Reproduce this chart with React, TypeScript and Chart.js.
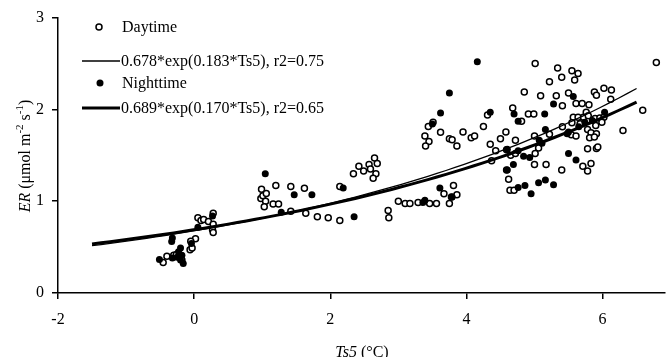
import React, { useEffect, useRef } from "react";
import { Chart, registerables } from "chart.js";

Chart.register(...registerables);

const dayX = [
  -0.455, -0.4, -0.3, -0.26, -0.18, -0.06, -0.03, 0.02, -0.05, 0.055, 0.1, 0.14, 0.21, 0.28, 0.28, 0.27, 0.28,
  0.99, 0.98, 1.01, 1.06, 1.05, 1.03, 1.2, 1.16, 1.24, 1.42, 1.42, 1.62, 1.64, 1.81, 1.97, 2.14, 2.14,
  2.34, 2.42, 2.49, 2.57, 2.59, 2.65, 2.69, 2.67, 2.63, 2.85, 2.86, 3.0, 3.1, 3.17, 3.29, 3.46, 3.56, 3.75,
  3.67, 3.81, 3.78, 3.86, 3.39, 3.45, 3.4, 3.44, 3.51, 3.62, 3.75, 3.79, 3.86, 3.95, 4.07, 4.12, 4.25,
  5.01, 5.34, 5.4, 5.22, 4.85, 5.09, 5.32, 5.41, 4.68, 4.91, 4.99, 4.31, 4.58, 4.5, 4.35, 4.72, 4.81,
  4.43, 4.37, 4.59, 4.65, 4.72, 5.0, 5.22, 5.41, 5.06, 5.01, 5.0, 5.17, 5.4, 4.59, 4.62, 4.64, 4.7,
  5.55, 5.64, 5.59, 6.79, 5.5, 5.88, 5.91, 6.02, 6.13, 6.12, 5.61, 5.7, 5.8, 5.76, 6.59, 5.57, 5.64,
  5.72, 5.79, 5.89, 5.96, 6.02, 5.55, 5.67, 5.78, 5.9, 5.99, 5.54, 5.61, 5.83, 5.91, 5.81, 5.88, 6.3,
  5.78, 5.91, 5.93, 5.83, 5.71, 5.78,
];
const dayY = [
  0.333, 0.4, 0.41, 0.42, 0.36, 0.47, 0.49, 0.59, 0.565, 0.82, 0.79, 0.8, 0.78, 0.87, 0.75, 0.69, 0.66,
  1.13, 1.03, 1.06, 1.085, 1.0, 0.94, 1.17, 0.97, 0.97, 1.16, 0.89, 1.14, 0.87, 0.83, 0.82, 0.79, 1.16,
  1.3, 1.38, 1.33, 1.4, 1.35, 1.47, 1.41, 1.3, 1.25, 0.9, 0.82, 1.0, 0.975, 0.975, 0.985, 0.975, 0.975, 0.975,
  1.08, 1.17, 1.045, 1.07, 1.71, 1.65, 1.6, 1.815, 1.86, 1.75, 1.68, 1.67, 1.6, 1.755, 1.69, 1.71, 1.815,
  2.5, 2.45, 2.35, 2.3, 2.19, 2.15, 2.15, 2.04, 2.015, 1.95, 1.95, 1.94, 1.755, 1.68, 1.62, 1.665, 1.87,
  1.55, 1.44, 1.56, 1.5, 1.52, 1.71, 1.73, 1.81, 1.58, 1.52, 1.4, 1.4, 1.34, 1.34, 1.24, 1.12, 1.12,
  2.42, 2.39, 2.32, 2.51, 2.18, 2.19, 2.155, 2.23, 2.21, 2.11, 2.065, 2.065, 2.05, 1.97, 1.99, 1.915, 1.915,
  1.915, 1.93, 1.9, 1.905, 1.915, 1.855, 1.845, 1.78, 1.825, 1.86, 1.725, 1.71, 1.745, 1.735, 1.69, 1.7, 1.77,
  1.57, 1.575, 1.59, 1.41, 1.38, 1.33,
];

const nightX = [
  -0.51, -0.32, -0.33, -0.2, -0.23, -0.25, -0.18, -0.2, -0.32, -0.16, -0.04, 0.055, 0.27,
  1.045, 1.47, 1.73, 1.28, 2.19, 2.35, 4.16, 3.75, 3.62, 3.5, 3.61, 3.39, 3.36, 3.79,
  5.28, 5.15, 4.35, 4.7, 4.76, 5.16, 5.07, 5.11, 4.6, 4.76, 4.84, 4.93, 4.69, 4.6, 4.76, 4.86,
  5.06, 5.16, 5.28, 4.95, 5.57, 6.03, 5.74, 5.65, 5.5, 5.48, 5.5, 5.61, 5.85,
];
const nightY = [
  0.365, 0.6, 0.56, 0.49, 0.45, 0.39, 0.41, 0.36, 0.38, 0.32, 0.54, 0.715, 0.84,
  1.3, 1.07, 1.07, 0.88, 1.145, 0.83, 2.52, 2.18, 1.96, 1.84, 1.145, 1.01, 0.985, 1.045,
  2.06, 1.95, 1.97, 1.95, 1.87, 1.78, 1.665, 1.63, 1.565, 1.55, 1.49, 1.475, 1.4, 1.34, 1.15, 1.17,
  1.2, 1.23, 1.18, 1.08, 2.14, 1.97, 1.86, 1.81, 1.755, 1.735, 1.52, 1.45, 1.88,
];

// fit coefficients from the legend: a*exp(b*Ts5)
const dayFit = [0.678, 0.183];
const nightFit = [0.689, 0.17];
const fitRange = [-1.5, 6.5];

const xTicks = [-2, 0, 2, 4, 6];
const yTicks = [0, 1, 2, 3];

const legendLabels = [
  "Daytime",
  "0.678*exp(0.183*Ts5), r2=0.75",
  "Nighttime",
  "0.689*exp(0.170*Ts5), r2=0.65",
];

const FONT = "'Liberation Serif', 'DejaVu Serif', serif";

function fitPoints(c: number[]) {
  const pts: { x: number; y: number }[] = [];
  const n = 60;
  for (let i = 0; i <= n; i++) {
    const x = fitRange[0] + ((fitRange[1] - fitRange[0]) * i) / n;
    pts.push({ x, y: c[0] * Math.exp(c[1] * x) });
  }
  return pts;
}

type Seg = { t: string; i?: boolean; sup?: boolean };

function drawRich(ctx: CanvasRenderingContext2D, segs: Seg[], cx: number, by: number, size: number) {
  const fontFor = (s: Seg) => `${s.i ? "italic " : ""}${s.sup ? Math.round(size * 0.68) : size}px ${FONT}`;
  let total = 0;
  const widths = segs.map((s) => {
    ctx.font = fontFor(s);
    const w = ctx.measureText(s.t).width;
    total += w;
    return w;
  });
  let x = cx - total / 2;
  ctx.textAlign = "left";
  ctx.textBaseline = "alphabetic";
  segs.forEach((s, k) => {
    ctx.font = fontFor(s);
    ctx.fillText(s.t, x, s.sup ? by - size * 0.42 : by);
    x += widths[k];
  });
}

const overlayPlugin = {
  id: "overlay",
  afterDraw(chart: any) {
    const ctx: CanvasRenderingContext2D = chart.ctx;
    ctx.save();
    ctx.fillStyle = "#000";
    ctx.strokeStyle = "#000";
    // x title
    drawRich(ctx, [{ t: "Ts5", i: true }, { t: " (°C)" }], 362, 357, 16);
    // y title
    ctx.save();
    ctx.translate(30, 156);
    ctx.rotate(-Math.PI / 2);
    drawRich(
      ctx,
      [
        { t: "ER", i: true },
        { t: " (μmol m" },
        { t: "-2", sup: true },
        { t: " s" },
        { t: "-1", sup: true },
        { t: ")" },
      ],
      0,
      0,
      16
    );
    ctx.restore();

    // legend
    const tx = 122;
    const rows = [27, 61, 83, 108];
    ctx.font = `16px ${FONT}`;
    ctx.textBaseline = "middle";
    ctx.textAlign = "left";
    // daytime marker
    ctx.beginPath();
    ctx.arc(99, rows[0], 3, 0, Math.PI * 2);
    ctx.fillStyle = "#fff";
    ctx.fill();
    ctx.lineWidth = 1.5;
    ctx.stroke();
    ctx.fillStyle = "#000";
    ctx.fillText(legendLabels[0], tx, rows[0] + 1);
    // day line
    ctx.beginPath();
    ctx.lineWidth = 1.3;
    ctx.moveTo(82, rows[1]);
    ctx.lineTo(120, rows[1]);
    ctx.stroke();
    ctx.fillText(legendLabels[1], 121, rows[1] + 1);
    // night marker
    ctx.beginPath();
    ctx.arc(100, rows[2], 3.5, 0, Math.PI * 2);
    ctx.fill();
    ctx.fillText(legendLabels[2], tx, rows[2] + 1);
    // night line
    ctx.beginPath();
    ctx.lineWidth = 3;
    ctx.moveTo(82, rows[3]);
    ctx.lineTo(120, rows[3]);
    ctx.stroke();
    ctx.fillText(legendLabels[3], 121, rows[3] + 1);
    ctx.restore();
  },
};

export default function App() {
  const ref = useRef<HTMLCanvasElement | null>(null);
  useEffect(() => {
    document.body.style.margin = "0";
    const canvas = ref.current;
    if (!canvas) return;
    Chart.defaults.font.family = FONT;
    const chart = new Chart(canvas, {
      type: "scatter",
      data: {
        datasets: [
          {
            label: "Daytime fit",
            type: "line",
            data: fitPoints(dayFit),
            borderColor: "#000",
            borderWidth: 1.3,
            pointRadius: 0,
            fill: false,
            order: 1,
          } as any,
          {
            label: "Nighttime fit",
            type: "line",
            data: fitPoints(nightFit),
            borderColor: "#000",
            borderWidth: 3,
            pointRadius: 0,
            fill: false,
            order: 0,
          } as any,
          {
            label: "Daytime",
            data: dayX.map((x, i) => ({ x, y: dayY[i] })),
            pointStyle: "circle",
            pointRadius: 3,
            pointBorderWidth: 1.5,
            pointBackgroundColor: "#fff",
            pointBorderColor: "#000",
            order: 3,
          },
          {
            label: "Nighttime",
            data: nightX.map((x, i) => ({ x, y: nightY[i] })),
            pointStyle: "circle",
            pointRadius: 3.5,
            pointBorderWidth: 0,
            pointBackgroundColor: "#000",
            pointBorderColor: "#000",
            order: 2,
          },
        ],
      },
      options: {
        responsive: false,
        animation: false,
        layout: { padding: { top: 14, right: 0, left: 0, bottom: 0 } },
        plugins: { legend: { display: false }, tooltip: { enabled: false } },
        scales: {
          x: {
            type: "linear",
            min: -2,
            max: 6.91,
            afterBuildTicks: (s: any) => {
              s.ticks = xTicks.map((v) => ({ value: v }));
            },
            afterFit: (s: any) => {
              s.height = 64;
            },
            ticks: { color: "#000", font: { size: 16 }, padding: 11 },
            grid: { display: true, drawOnChartArea: false, drawTicks: true, tickLength: 6, color: "#000", lineWidth: 1.5 },
            border: { display: true, color: "#000", width: 1.5 },
            title: { display: false },
          },
          y: {
            type: "linear",
            min: 0,
            max: 3,
            afterBuildTicks: (s: any) => {
              s.ticks = yTicks.map((v) => ({ value: v }));
            },
            afterFit: (s: any) => {
              s.width = 58;
            },
            ticks: { color: "#000", font: { size: 16 }, padding: 8 },
            grid: { display: true, drawOnChartArea: false, drawTicks: true, tickLength: 6, color: "#000", lineWidth: 1.5 },
            border: { display: true, color: "#000", width: 1.5 },
            title: { display: false },
          },
        },
      },
      plugins: [overlayPlugin],
    });
    return () => chart.destroy();
  }, []);
  return (
    <div style={{ width: 670, height: 357, background: "#fff" }}>
      <canvas ref={ref} width={670} height={357} />
    </div>
  );
}
